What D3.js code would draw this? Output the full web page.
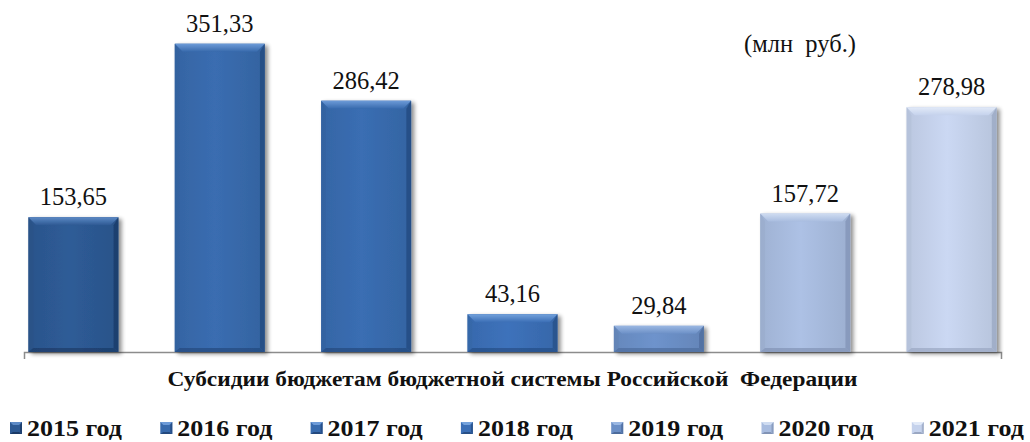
<!DOCTYPE html>
<html>
<head>
<meta charset="utf-8">
<script src="https://cdn.jsdelivr.net/npm/d3@7"></script>
<style>
  html, body { margin: 0; padding: 0; background: #fff; }
  svg { display: block; }
  svg text { font-family: "Liberation Serif", "Times New Roman", serif; fill: #111; }
</style>
</head>
<body>
<div id="chart"></div>
<script>
// Субсидии бюджетам бюджетной системы РФ, млн руб.
const years = ["2015 год", "2016 год", "2017 год", "2018 год", "2019 год", "2020 год", "2021 год"];
const values = [153.65, 351.33, 286.42, 43.16, 29.84, 157.72, 278.98];
const valueLabels = ["153,65", "351,33", "286,42", "43,16", "29,84", "157,72", "278,98"];
const category = "Субсидии бюджетам бюджетной системы Российской  Федерации";
const unitLabel = "(млн  руб.)";

// Fill colours per year: base, highlight, shade
const baseColors  = ["#2d5993", "#386aac", "#386bae", "#3b6fb6", "#6b8fc6", "#a8bcdf", "#c5d2ec"];
const lightColors = ["#5d8ac6", "#6d9bd8", "#6d9bd8", "#74a2dc", "#9ab7e2", "#cfdcf1", "#e2eaf8"];
const darkColors  = ["#1b3a66", "#24497e", "#24497e", "#274f86", "#4d6c9c", "#8193b5", "#9aa7c2"];

const W = 1030, H = 442;
const svg = d3.select("#chart").append("svg").attr("width", W).attr("height", H);
const defs = svg.append("defs");

const f = defs.append("filter").attr("id", "shadow").attr("x", "-20%").attr("y", "-20%").attr("width", "140%").attr("height", "140%");
f.append("feGaussianBlur").attr("in", "SourceAlpha").attr("stdDeviation", 2.2);
f.append("feOffset").attr("dx", 2.5).attr("dy", 1.5).attr("result", "b");
f.append("feComponentTransfer").append("feFuncA").attr("type", "linear").attr("slope", 0.45);
const fm = f.append("feMerge");
fm.append("feMergeNode");
fm.append("feMergeNode").attr("in", "SourceGraphic");

years.forEach((y, i) => {
  const g = defs.append("linearGradient").attr("id", "body" + i).attr("x1", 0).attr("x2", 1).attr("y1", 0).attr("y2", 0);
  g.append("stop").attr("offset", "0%").attr("stop-color", d3.color(baseColors[i]).darker(0.15));
  g.append("stop").attr("offset", "45%").attr("stop-color", d3.color(baseColors[i]).brighter(0.08));
  g.append("stop").attr("offset", "100%").attr("stop-color", d3.color(baseColors[i]).darker(0.2));
  const t = defs.append("linearGradient").attr("id", "top" + i).attr("x1", 0).attr("x2", 0).attr("y1", 0).attr("y2", 1);
  t.append("stop").attr("offset", "0%").attr("stop-color", lightColors[i]);
  t.append("stop").attr("offset", "100%").attr("stop-color", baseColors[i]);
});

const axisY = 352;
// bars of the single category, one per year
const xb = d3.scaleBand().domain(years).range([24, 1001]).paddingInner(0.385).paddingOuter(0.03);
const yScale = d3.scaleLinear().domain([0, 400]).range([axisY, 1]);

// Category axis line with end ticks
const axisG = svg.append("g").attr("transform", `translate(0,${axisY})`);
const catScale = d3.scaleBand().domain([category]).range([24, 1001]);
axisG.call(d3.axisBottom(catScale).tickSize(0).tickSizeOuter(7).tickFormat(""));
axisG.select(".domain").attr("stroke", "#8c8c8c").attr("stroke-width", 1.5);

const bars = svg.append("g").selectAll("g.bar").data(values).join("g").attr("class", "bar")
  .attr("filter", "url(#shadow)");

bars.each(function (v, i) {
  const g = d3.select(this);
  const x0 = xb(years[i]), w = xb.bandwidth();
  const y0 = yScale(v), h = axisY - y0;
  const b = Math.min(8, h / 3);
  g.append("rect").attr("x", x0).attr("y", y0).attr("width", w).attr("height", h)
    .attr("fill", `url(#body${i})`);
  // top bevel
  g.append("polygon").attr("points", [[x0, y0], [x0 + w, y0], [x0 + w - b, y0 + b], [x0 + b, y0 + b]].join(" "))
    .attr("fill", `url(#top${i})`);
  // left bevel
  g.append("polygon").attr("points", [[x0, y0], [x0 + b * 0.6, y0 + b], [x0 + b * 0.6, y0 + h - b * 0.5], [x0, y0 + h]].join(" "))
    .attr("fill", d3.color(baseColors[i]).darker(0.25)).attr("opacity", 0.7);
  // right bevel
  g.append("polygon").attr("points", [[x0 + w, y0], [x0 + w - b * 0.6, y0 + b], [x0 + w - b * 0.6, y0 + h - b * 0.5], [x0 + w, y0 + h]].join(" "))
    .attr("fill", darkColors[i]).attr("opacity", 0.75);
  // bottom bevel
  g.append("polygon").attr("points", [[x0, y0 + h], [x0 + b * 0.6, y0 + h - b * 0.5], [x0 + w - b * 0.6, y0 + h - b * 0.5], [x0 + w, y0 + h]].join(" "))
    .attr("fill", darkColors[i]).attr("opacity", 0.7);
});

// Value labels
svg.append("g").selectAll("text").data(values).join("text")
  .attr("x", (d, i) => xb(years[i]) + xb.bandwidth() / 2)
  .attr("y", d => yScale(d) - 12)
  .attr("text-anchor", "middle")
  .attr("font-size", 24.5)
  .text((d, i) => valueLabels[i]);

// Unit note
svg.append("text").attr("x", 800).attr("y", 52).attr("text-anchor", "middle")
  .attr("font-size", 24.5)
  .attr("xml:space", "preserve")
  .text(unitLabel);

// Category label, stretched across the axis width
svg.append("text").attr("x", catScale(category) + catScale.bandwidth() / 2).attr("y", 386)
  .attr("text-anchor", "middle")
  .attr("font-weight", "bold").attr("font-size", 20.5)
  .attr("xml:space", "preserve")
  .attr("textLength", 690).attr("lengthAdjust", "spacingAndGlyphs")
  .text(category);

// Legend
const legend = svg.append("g").selectAll("g").data(years).join("g")
  .attr("transform", (d, i) => `translate(${10 + i * 150.3},0)`);
legend.each(function (d, i) {
  const g = d3.select(this);
  const s = 12, ly = 422;
  g.append("rect").attr("x", 0).attr("y", ly).attr("width", s).attr("height", s).attr("fill", baseColors[i]);
  g.append("polygon").attr("points", [[0, ly], [s, ly], [s - 3, ly + 3], [3, ly + 3]].join(" ")).attr("fill", lightColors[i]);
  g.append("polygon").attr("points", [[0, ly + s], [3, ly + s - 2], [s - 3, ly + s - 2], [s, ly + s]].join(" ")).attr("fill", darkColors[i]);
  g.append("polygon").attr("points", [[s, ly], [s - 2, ly + 3], [s - 2, ly + s - 2], [s, ly + s]].join(" ")).attr("fill", darkColors[i]).attr("opacity", 0.8);
  g.append("text").attr("x", 17).attr("y", 436)
    .attr("font-weight", "bold").attr("font-size", 24)
    .attr("textLength", 95).attr("lengthAdjust", "spacingAndGlyphs")
    .text(d);
});
</script>
</body>
</html>
